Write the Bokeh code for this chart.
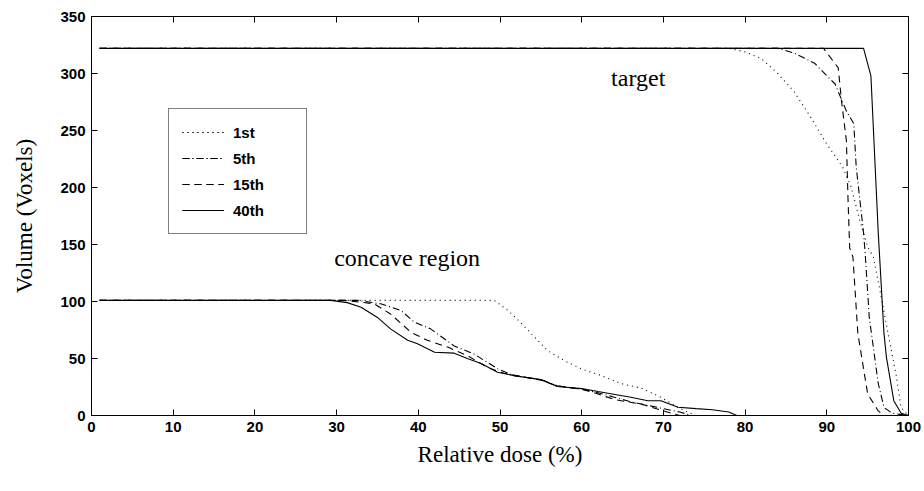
from bokeh.plotting import figure
from bokeh.models import (Range1d, LinearAxis, FixedTicker, Legend, LegendItem, Label)
from bokeh.embed import file_html
from bokeh.resources import INLINE

# ---- data ----
series_labels = ["1st", "5th", "15th", "40th"]

# target curves
t1_x = [1, 78, 80, 82, 84, 86, 88, 89, 90, 91, 92, 93, 94, 95, 95.7, 96.5, 97.5, 98.5, 99.1, 100]
t1_y = [322, 322, 319, 313, 300, 284, 262, 250, 238, 228, 217, 200, 172, 148, 139, 110, 72, 35, 7, 0]
t5_x = [1, 84, 86, 88.5, 90, 91, 92.4, 93.3, 93.6, 94.5, 94.7, 95.2, 96.3, 97, 98, 99, 100]
t5_y = [322, 322, 318, 309, 298, 291, 267, 256, 218, 160, 142, 86, 28, 7, 2, 1, 0]
t15_x = [1, 89.6, 91.4, 91.8, 92.4, 92.6, 92.8, 93.2, 93.8, 95, 96.3, 97, 100]
t15_y = [322, 322, 305, 276, 241, 189, 147, 139, 72, 19, 4, 0, 0]
t40_x = [1, 94.5, 95.4, 96.3, 97, 97.3, 98.2, 99.1, 100]
t40_y = [322, 322, 298, 160, 72, 51, 13, 2, 0]

# concave region curves
c1_x = [1, 49.3, 51, 52.6, 54.2, 55.8, 57.9, 59.9, 62.4, 64.8, 67.3, 69.7, 71.8, 73, 74]
c1_y = [101, 101, 92, 81, 69, 57, 48, 41, 35, 28, 24, 16, 7, 3, 0]
c5_x = [1, 32.6, 35.4, 37.9, 39.5, 41.5, 44.4, 46.8, 49.7, 51.7, 55, 57, 60, 62, 64, 66, 68, 70, 72, 73.5]
c5_y = [101, 101, 98, 92, 82, 76, 61, 54, 41, 35, 31.5, 26, 23, 20, 16, 12, 9, 6, 3, 0]
c15_x = [1, 31, 34.6, 36.6, 39.1, 41.1, 43.6, 46, 48.5, 50.5, 55, 57, 60, 61.5, 64, 67.3, 70, 72]
c15_y = [101, 101, 98, 89, 73, 66, 60, 52.6, 42, 37, 31, 26, 23, 20, 14, 10, 4, 0]
c40_x = [1, 29.3, 31.3, 33, 35, 36.6, 38.7, 39.9, 42, 44.4, 46, 47.7, 49.7, 51.7, 55, 57, 60, 62, 66,
         68.1, 69.7, 71.8, 74, 76, 78, 79, 82]
c40_y = [101, 101, 99, 95, 86, 76, 66, 63, 55.5, 54.7, 50, 45.6, 38, 35, 31.5, 25.5, 23.6, 21, 16,
         13, 13, 7.3, 6, 5, 3, 0, 0]

x_ticks = [0, 10, 20, 30, 40, 50, 60, 70, 80, 90, 100]
y_ticks = [0, 50, 100, 150, 200, 250, 300, 350]

SANS = "Liberation Sans"
SERIF = "Liberation Serif"

p = figure(width=924, height=491, output_backend="svg", toolbar_location=None,
           x_range=Range1d(0, 100), y_range=Range1d(0, 350),
           min_border_left=91, min_border_right=16, min_border_top=16, min_border_bottom=76)
p.xgrid.visible = False
p.ygrid.visible = False
p.outline_line_color = "black"
p.outline_line_width = 1
p.background_fill_color = "white"
p.border_fill_color = "white"

for ax, ticks in ((p.xaxis[0], x_ticks), (p.yaxis[0], y_ticks)):
    ax.ticker = FixedTicker(ticks=ticks)
    ax.minor_tick_line_color = None
    ax.major_tick_in = 6
    ax.major_tick_out = 0
    ax.axis_line_color = "black"
    ax.major_tick_line_color = "black"
    ax.major_label_text_font = SANS
    ax.major_label_text_font_size = "15px"
    ax.major_label_text_font_style = "bold"
    ax.major_label_text_color = "black"
    ax.axis_label_text_font = SERIF
    ax.axis_label_text_font_style = "normal"
    ax.axis_label_text_font_size = "23px"
    ax.axis_label_text_color = "black"

p.xaxis.axis_label = "Relative dose (%)"
p.yaxis.axis_label = "Volume (Voxels)"
p.xaxis.major_label_standoff = 6
p.xaxis.axis_label_standoff = 7
p.yaxis.major_label_standoff = 6
p.yaxis.axis_label_standoff = 20

top = LinearAxis(ticker=FixedTicker(ticks=x_ticks), major_tick_in=6, major_tick_out=0,
                 minor_tick_line_color=None, major_label_text_font_size="0px",
                 major_label_text_color=None)
right = LinearAxis(ticker=FixedTicker(ticks=y_ticks), major_tick_in=6, major_tick_out=0,
                   minor_tick_line_color=None, major_label_text_font_size="0px",
                   major_label_text_color=None)
p.add_layout(top, "above")
p.add_layout(right, "right")

styles = {
    "1st": dict(line_dash="1 4"),
    "5th": dict(line_dash="7 3 1 3"),
    "15th": dict(line_dash="7 5"),
    "40th": dict(line_dash="solid"),
}
data = {
    "1st": ((t1_x, t1_y), (c1_x, c1_y)),
    "5th": ((t5_x, t5_y), (c5_x, c5_y)),
    "15th": ((t15_x, t15_y), (c15_x, c15_y)),
    "40th": ((t40_x, t40_y), (c40_x, c40_y)),
}

items = []
for lab in series_labels:
    rs = []
    for xs, ys in data[lab]:
        r = p.line(xs, ys, line_color="black", line_width=1.1, **styles[lab])
        rs.append(r)
    items.append(LegendItem(label=lab, renderers=rs))

legend = Legend(items=items, location=(77, 181), orientation="vertical",
                padding=13, spacing=6, glyph_width=42, glyph_height=20,
                label_height=20, label_width=60, label_standoff=9,
                label_text_font=SANS, label_text_font_size="15px",
                label_text_font_style="bold", label_text_color="black",
                border_line_color="black", border_line_width=1,
                background_fill_color="white", background_fill_alpha=1,
                margin=0)
p.add_layout(legend, "center")

p.add_layout(Label(x=63.6, y=296, text="target", text_font=SERIF,
                   text_font_size="24px", text_color="black",
                   text_baseline="middle"))
p.add_layout(Label(x=29.7, y=138, text="concave region", text_font=SERIF,
                   text_font_size="24px", text_color="black",
                   text_baseline="middle"))

open("out.html", "w").write(file_html(p, INLINE))
